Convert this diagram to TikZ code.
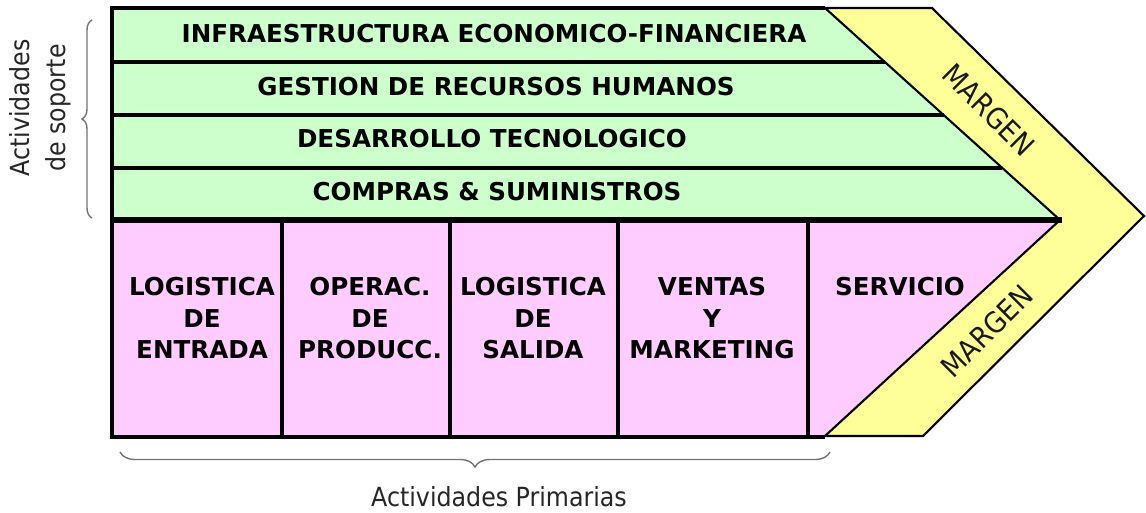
\documentclass[tikz,border=0pt]{standalone}
\usepackage{fontspec}
\setmainfont{DejaVu Sans}
\newfontfamily\labfont[FakeStretch=0.9]{DejaVu Sans}
\usetikzlibrary{decorations.pathreplacing}
\definecolor{supgreen}{HTML}{CCFFCC}
\definecolor{primpink}{HTML}{FFCCFF}
\definecolor{margyellow}{HTML}{FFFF99}
\begin{document}
\begin{tikzpicture}[x=0.02cm,y=-0.02cm,
  boldtxt/.style={font=\fontsize{14}{17.9}\selectfont\bfseries, inner sep=0pt, align=center},
  labtxt/.style={font=\labfont\fontsize{15}{20.4}\selectfont, inner sep=0pt, align=center, text=black!85},
  margtxt/.style={font=\labfont\fontsize{16.5}{20}\selectfont, inner sep=0pt, text=black!90},
  rowline/.style={line width=1.9pt},
  brc/.style={decorate, decoration={brace, amplitude=#1}, draw=black!55, line width=0.8pt}
]
\useasboundingbox (0,0) rectangle (1146,513);
% regions
\fill[supgreen] (112,8) -- (825,8) -- (1060,220) -- (112,220) -- cycle;
\fill[primpink] (112,220) -- (1060,220) -- (825,437) -- (112,437) -- cycle;
\draw[fill=margyellow, line width=1.2pt, line join=miter]
  (825,8) -- (932,8) -- (1144,216) -- (923,436) -- (825,436) -- (1060,220) -- cycle;
% support rows
\draw[rowline] (112,62) -- (885,62);
\draw[rowline] (112,115) -- (944,115);
\draw[rowline] (112,168) -- (1002,168);
\draw[line width=3.2pt] (112,220) -- (1062,220);
% primary columns
\foreach \cx in {282,450,618,808} \draw[rowline] (\cx,220) -- (\cx,437);
% outer border
\draw[rowline] (825,8) -- (112,8) -- (112,437) -- (825,437);
% support texts
\node[boldtxt, anchor=base] (infra) at (494,43) {INFRAESTRUCTURA ECONOMICO-FINANCIERA};
\node[boldtxt, anchor=base] (rrhh) at (496,96) {GESTION DE RECURSOS HUMANOS};
\node[boldtxt, anchor=base] (tec) at (492,148) {DESARROLLO TECNOLOGICO};
\node[boldtxt, anchor=base] (comp) at (497,201) {COMPRAS \& SUMINISTROS};
% primary texts
\node[boldtxt, anchor=north] (login) at (202,277) {LOGISTICA\\DE\\ENTRADA};
\node[boldtxt, anchor=north] (oper) at (370,277) {OPERAC.\\DE\\PRODUCC.};
\node[boldtxt, anchor=north] (logout) at (533,277) {LOGISTICA\\DE\\SALIDA};
\node[boldtxt, anchor=north] (ventas) at (712,277) {VENTAS\\Y\\MARKETING};
\node[boldtxt, anchor=north] (serv) at (900,277) {SERVICIO};
% margin texts
\node[margtxt, rotate=-45] (marg1) at (989,110) {MARGEN};
\node[margtxt, rotate=45] (marg2) at (987,331) {MARGEN};
% braces and labels
\draw[brc=0.2cm] (92,218) coordinate (bl1) -- (92,20) coordinate (bl2);
\draw[brc=0.3cm] (830,452) coordinate (bb1) -- (120,452) coordinate (bb2);
\node[labtxt, rotate=90] (soporte) at (40,108) {Actividades\\de soporte};
\node[labtxt] (primarias) at (499,497) {Actividades Primarias};
\end{tikzpicture}
\end{document}
